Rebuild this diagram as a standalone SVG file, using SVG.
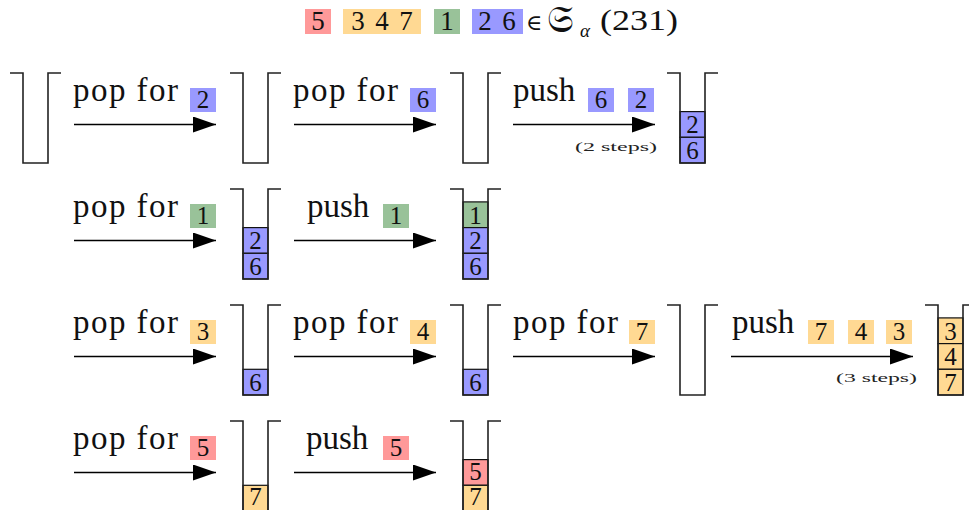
<svg xmlns="http://www.w3.org/2000/svg" width="969" height="510" viewBox="0 0 969 510">
<defs>
<style>
.lbl{font-family:"Liberation Serif",serif;font-size:33px;fill:#111}
.dg{font-family:"Liberation Serif",serif;font-size:25px;text-anchor:middle;fill:#111}
.sm{font-family:"Liberation Serif",serif;font-size:13px;fill:#222}
.ttl{font-family:"Liberation Serif",serif;font-size:27px;fill:#111}
.b{fill:#9999ff}.r{fill:#ff9999}.o{fill:#ffd993}.g{fill:#99c299}
.sb{stroke:#111;stroke-width:1.2}
.stk{fill:none;stroke:#222;stroke-width:1.6}
.arr{stroke:#000;stroke-width:1.6;fill:none;marker-end:url(#ah)}
</style>
<marker id="ah" markerUnits="userSpaceOnUse" markerWidth="24" markerHeight="17" refX="23" refY="8" orient="auto">
<path d="M0,0 L23,8 L0,16 z" fill="#000"/>
</marker>
<path id="stk" class="stk" d="M-13,0 H0 V90 H25 V0 H38"/>
</defs>
<rect width="969" height="510" fill="#fff"/>

<g id="title">
<rect class="r" x="305" y="9" width="26" height="25"/>
<rect class="o" x="343" y="9" width="78" height="25"/>
<rect class="g" x="434" y="9" width="26" height="25"/>
<rect class="b" x="472" y="9" width="51" height="25"/>
<text class="ttl" x="318" y="30" text-anchor="middle">5</text>
<text class="ttl" x="358" y="30" text-anchor="middle">3</text>
<text class="ttl" x="382" y="30" text-anchor="middle">4</text>
<text class="ttl" x="406" y="30" text-anchor="middle">7</text>
<text class="ttl" x="447" y="30" text-anchor="middle">1</text>
<text class="ttl" x="485" y="30" text-anchor="middle">2</text>
<text class="ttl" x="509" y="30" text-anchor="middle">6</text>
<text class="ttl" x="526" y="30" style="font-family:'DejaVu Serif','DejaVu Sans',serif;font-size:22px">∈</text>
<text class="ttl" x="547" y="32" style="font-family:'DejaVu Serif','DejaVu Sans','Noto Sans',serif;font-size:38px">𝔖</text>
<text class="ttl" x="580" y="37" style="font-style:italic;font-size:19px">α</text>
<text class="ttl" x="600" y="30" textLength="78" lengthAdjust="spacingAndGlyphs" style="font-size:30px">(231)</text>
</g>

<g id="connectors">
<line class="arr" x1="74" y1="124.5" x2="216" y2="124.5"/>
<line class="arr" x1="294" y1="124.5" x2="436" y2="124.5"/>
<line class="arr" x1="513" y1="124.5" x2="655" y2="124.5"/>
<line class="arr" x1="74" y1="240.5" x2="216" y2="240.5"/>
<line class="arr" x1="294" y1="240.5" x2="436" y2="240.5"/>
<line class="arr" x1="74" y1="356.5" x2="216" y2="356.5"/>
<line class="arr" x1="294" y1="356.5" x2="436" y2="356.5"/>
<line class="arr" x1="513" y1="356.5" x2="655" y2="356.5"/>
<line class="arr" x1="731" y1="356.5" x2="913" y2="356.5"/>
<line class="arr" x1="74" y1="472.5" x2="216" y2="472.5"/>
<line class="arr" x1="294" y1="472.5" x2="436" y2="472.5"/>
</g>

<g id="labels">
<g transform="translate(0,73)">
<text class="lbl" x="73" y="28" textLength="105" lengthAdjust="spacing">pop for</text>
<rect class="b" x="190" y="15" width="26" height="24"/><text class="dg" x="203" y="35">2</text>
<text class="lbl" x="293" y="28" textLength="105" lengthAdjust="spacing">pop for</text>
<rect class="b" x="410" y="15" width="26" height="24"/><text class="dg" x="423" y="35">6</text>
<text class="lbl" x="513" y="28">push</text>
<rect class="b" x="588" y="15" width="26" height="24"/><text class="dg" x="601" y="35">6</text>
<rect class="b" x="628" y="15" width="26" height="24"/><text class="dg" x="641" y="35">2</text>
<text class="sm" x="575" y="78" textLength="82" lengthAdjust="spacingAndGlyphs">(2 steps)</text>
</g>
<g transform="translate(0,189)">
<text class="lbl" x="73" y="28" textLength="105" lengthAdjust="spacing">pop for</text>
<rect class="g" x="190" y="15" width="26" height="24"/><text class="dg" x="203" y="35">1</text>
<text class="lbl" x="307" y="28">push</text>
<rect class="g" x="383" y="15" width="26" height="24"/><text class="dg" x="396" y="35">1</text>
</g>
<g transform="translate(0,305)">
<text class="lbl" x="73" y="28" textLength="105" lengthAdjust="spacing">pop for</text>
<rect class="o" x="190" y="15" width="26" height="24"/><text class="dg" x="203" y="35">3</text>
<text class="lbl" x="293" y="28" textLength="105" lengthAdjust="spacing">pop for</text>
<rect class="o" x="410" y="15" width="26" height="24"/><text class="dg" x="423" y="35">4</text>
<text class="lbl" x="513" y="28" textLength="105" lengthAdjust="spacing">pop for</text>
<rect class="o" x="629" y="15" width="26" height="24"/><text class="dg" x="642" y="35">7</text>
<text class="lbl" x="732" y="28">push</text>
<rect class="o" x="808" y="15" width="26" height="24"/><text class="dg" x="821" y="35">7</text>
<rect class="o" x="848" y="15" width="26" height="24"/><text class="dg" x="861" y="35">4</text>
<rect class="o" x="886" y="15" width="26" height="24"/><text class="dg" x="899" y="35">3</text>
<text class="sm" x="836" y="77" textLength="81" lengthAdjust="spacingAndGlyphs">(3 steps)</text>
</g>
<g transform="translate(0,421)">
<text class="lbl" x="73" y="28" textLength="105" lengthAdjust="spacing">pop for</text>
<rect class="r" x="190" y="15" width="26" height="24"/><text class="dg" x="203" y="35">5</text>
<text class="lbl" x="306" y="28">push</text>
<rect class="r" x="383" y="15" width="26" height="24"/><text class="dg" x="396" y="35">5</text>
</g>
</g>

<g id="stack-r1-a" transform="translate(23,73)"><use href="#stk"/></g>
<g id="stack-r1-b" transform="translate(243,73)"><use href="#stk"/></g>
<g id="stack-r1-c" transform="translate(463,73)"><use href="#stk"/></g>
<g id="stack-r1-d" transform="translate(680,73)">
<rect class="b sb" x="0" y="38.6" width="25" height="25.7"/><text class="dg" x="12.5" y="60">2</text>
<rect class="b sb" x="0" y="64.3" width="25" height="25.7"/><text class="dg" x="12.5" y="86">6</text>
<use href="#stk"/></g>

<g id="stack-r2-a" transform="translate(243,189)">
<rect class="b sb" x="0" y="38.6" width="25" height="25.7"/><text class="dg" x="12.5" y="60">2</text>
<rect class="b sb" x="0" y="64.3" width="25" height="25.7"/><text class="dg" x="12.5" y="86">6</text>
<use href="#stk"/></g>
<g id="stack-r2-b" transform="translate(463,189)">
<rect class="g sb" x="0" y="12.9" width="25" height="25.7"/><text class="dg" x="12.5" y="34.5">1</text>
<rect class="b sb" x="0" y="38.6" width="25" height="25.7"/><text class="dg" x="12.5" y="60">2</text>
<rect class="b sb" x="0" y="64.3" width="25" height="25.7"/><text class="dg" x="12.5" y="86">6</text>
<use href="#stk"/></g>

<g id="stack-r3-a" transform="translate(243,305)">
<rect class="b sb" x="0" y="64.3" width="25" height="25.7"/><text class="dg" x="12.5" y="86">6</text>
<use href="#stk"/></g>
<g id="stack-r3-b" transform="translate(463,305)">
<rect class="b sb" x="0" y="64.3" width="25" height="25.7"/><text class="dg" x="12.5" y="86">6</text>
<use href="#stk"/></g>
<g id="stack-r3-c" transform="translate(680,305)"><use href="#stk"/></g>
<g id="stack-r3-d" transform="translate(938,305)">
<rect class="o sb" x="0" y="12.9" width="25" height="25.7"/><text class="dg" x="12.5" y="34.5">3</text>
<rect class="o sb" x="0" y="38.6" width="25" height="25.7"/><text class="dg" x="12.5" y="60">4</text>
<rect class="o sb" x="0" y="64.3" width="25" height="25.7"/><text class="dg" x="12.5" y="86">7</text>
<use href="#stk"/></g>

<g id="stack-r4-a" transform="translate(243,421)">
<rect class="o sb" x="0" y="64.3" width="25" height="25.7"/><text class="dg" x="12.5" y="84">7</text>
<use href="#stk"/></g>
<g id="stack-r4-b" transform="translate(463,421)">
<rect class="r sb" x="0" y="38.6" width="25" height="25.7"/><text class="dg" x="12.5" y="59">5</text>
<rect class="o sb" x="0" y="64.3" width="25" height="25.7"/><text class="dg" x="12.5" y="84">7</text>
<use href="#stk"/></g>
</svg>
